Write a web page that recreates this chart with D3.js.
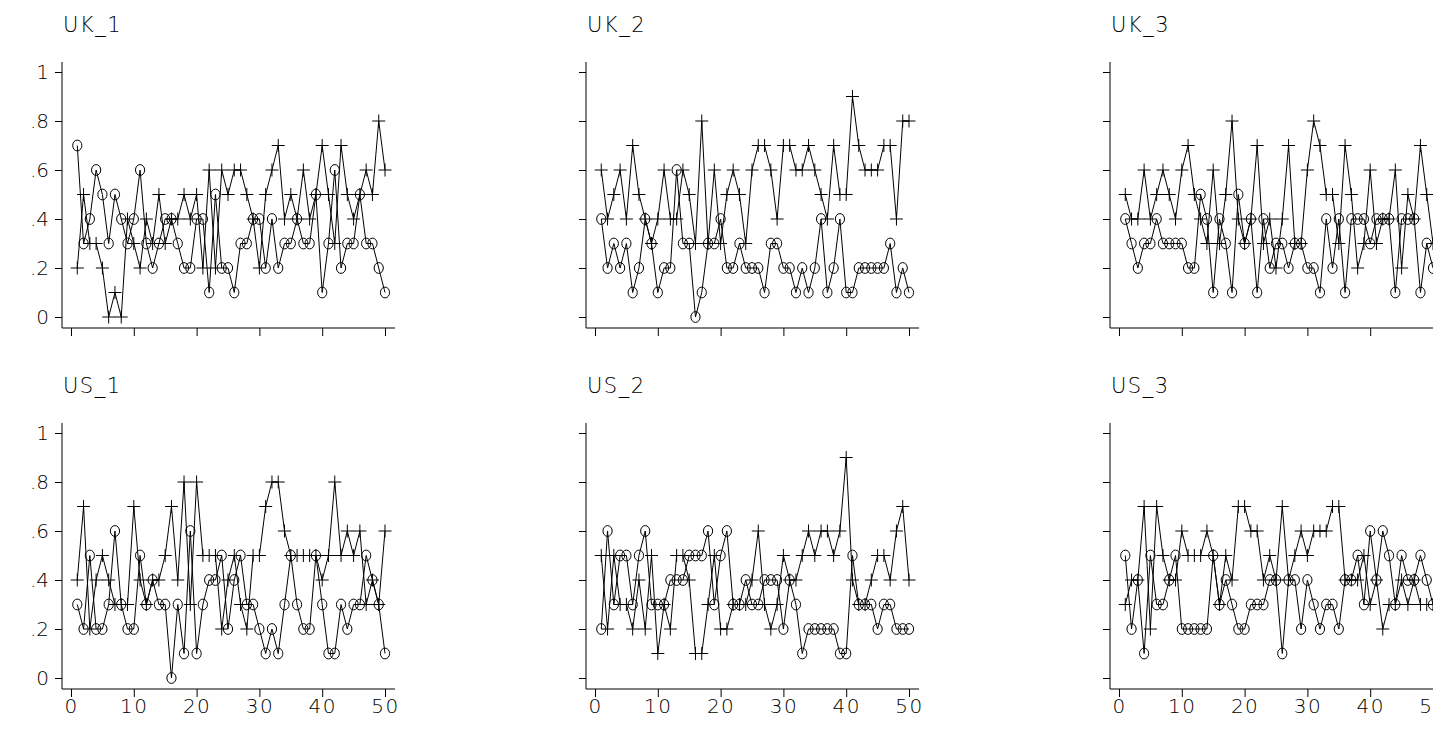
<!DOCTYPE html>
<html>
<head>
<meta charset="utf-8">
<script src="https://cdn.jsdelivr.net/npm/d3@7"></script>
<style>
  body { margin: 0; background: #fff; }
  svg { display: block; }
  text { font-family: "DejaVu Sans", sans-serif; font-weight: 200; fill: #000; }
</style>
</head>
<body>
<script>
// panel names, in row order
var panelNames = ['UK_1', 'UK_2', 'UK_3', 'US_1', 'US_2', 'US_3'];

// observation number on the x axis
var obs = d3.range(1, 51);

// circle series, one array per panel
var uk1Circle = [0.7,0.3,0.4,0.6,0.5,0.3,0.5,0.4,0.3,0.4,0.6,0.3,0.2,0.3,0.4,0.4,0.3,0.2,0.2,0.4,0.4,0.1,0.5,0.2,0.2,
                 0.1,0.3,0.3,0.4,0.4,0.2,0.4,0.2,0.3,0.3,0.4,0.3,0.3,0.5,0.1,0.3,0.6,0.2,0.3,0.3,0.5,0.3,0.3,0.2,0.1];
var uk2Circle = [0.4,0.2,0.3,0.2,0.3,0.1,0.2,0.4,0.3,0.1,0.2,0.2,0.6,0.3,0.3,0.0,0.1,0.3,0.3,0.4,0.2,0.2,0.3,0.2,0.2,
                 0.2,0.1,0.3,0.3,0.2,0.2,0.1,0.2,0.1,0.2,0.4,0.1,0.2,0.4,0.1,0.1,0.2,0.2,0.2,0.2,0.2,0.3,0.1,0.2,0.1];
var uk3Circle = [0.4,0.3,0.2,0.3,0.3,0.4,0.3,0.3,0.3,0.3,0.2,0.2,0.5,0.4,0.1,0.4,0.3,0.1,0.5,0.3,0.4,0.1,0.4,0.2,0.3,
                 0.3,0.2,0.3,0.3,0.2,0.2,0.1,0.4,0.2,0.4,0.1,0.4,0.4,0.4,0.3,0.4,0.4,0.4,0.1,0.4,0.4,0.4,0.1,0.3,0.2];
var us1Circle = [0.3,0.2,0.5,0.2,0.2,0.3,0.6,0.3,0.2,0.2,0.5,0.3,0.4,0.3,0.3,0.0,0.3,0.1,0.6,0.1,0.3,0.4,0.4,0.5,0.2,
                 0.4,0.5,0.3,0.3,0.2,0.1,0.2,0.1,0.3,0.5,0.3,0.2,0.2,0.5,0.3,0.1,0.1,0.3,0.2,0.3,0.3,0.5,0.4,0.3,0.1];
var us2Circle = [0.2,0.6,0.3,0.5,0.5,0.3,0.5,0.6,0.3,0.3,0.3,0.4,0.4,0.4,0.5,0.5,0.5,0.6,0.3,0.5,0.6,0.3,0.3,0.4,0.3,
                 0.3,0.4,0.4,0.4,0.2,0.4,0.3,0.1,0.2,0.2,0.2,0.2,0.2,0.1,0.1,0.5,0.3,0.3,0.3,0.2,0.3,0.3,0.2,0.2,0.2];
var us3Circle = [0.5,0.2,0.4,0.1,0.5,0.3,0.3,0.4,0.5,0.2,0.2,0.2,0.2,0.2,0.5,0.3,0.4,0.3,0.2,0.2,0.3,0.3,0.3,0.4,0.4,
                 0.1,0.4,0.4,0.2,0.4,0.3,0.2,0.3,0.3,0.2,0.4,0.4,0.5,0.3,0.6,0.4,0.6,0.5,0.3,0.5,0.4,0.4,0.5,0.4,0.3];

// plus series, one array per panel
var uk1Plus = [0.2,0.5,0.3,0.3,0.2,0.0,0.1,0.0,0.4,0.3,0.2,0.4,0.3,0.5,0.3,0.4,0.4,0.5,0.4,0.5,0.2,0.6,0.2,0.6,0.5,
               0.6,0.6,0.5,0.4,0.2,0.5,0.6,0.7,0.4,0.5,0.4,0.6,0.4,0.5,0.7,0.5,0.3,0.7,0.5,0.4,0.5,0.6,0.5,0.8,0.6];
var uk2Plus = [0.6,0.4,0.5,0.6,0.4,0.7,0.5,0.4,0.3,0.4,0.6,0.4,0.4,0.6,0.5,0.3,0.8,0.3,0.6,0.3,0.5,0.6,0.5,0.3,0.6,
               0.7,0.7,0.6,0.4,0.7,0.7,0.6,0.6,0.7,0.6,0.5,0.4,0.7,0.5,0.5,0.9,0.7,0.6,0.6,0.6,0.7,0.7,0.4,0.8,0.8];
var uk3Plus = [0.5,0.4,0.4,0.6,0.4,0.5,0.6,0.5,0.4,0.6,0.7,0.5,0.4,0.3,0.6,0.3,0.5,0.8,0.4,0.3,0.4,0.7,0.3,0.4,0.2,
               0.4,0.7,0.3,0.3,0.6,0.8,0.7,0.5,0.5,0.3,0.7,0.5,0.2,0.3,0.6,0.3,0.4,0.4,0.6,0.2,0.5,0.4,0.7,0.5,0.3];
var us1Plus = [0.4,0.7,0.2,0.4,0.5,0.4,0.3,0.3,0.3,0.7,0.4,0.3,0.4,0.4,0.5,0.7,0.4,0.8,0.3,0.8,0.5,0.5,0.5,0.2,0.4,
               0.5,0.3,0.2,0.5,0.5,0.7,0.8,0.8,0.6,0.5,0.5,0.5,0.5,0.5,0.4,0.5,0.8,0.5,0.6,0.5,0.6,0.3,0.4,0.3,0.6];
var us2Plus = [0.5,0.2,0.5,0.3,0.3,0.2,0.4,0.2,0.5,0.1,0.3,0.2,0.5,0.5,0.4,0.1,0.1,0.3,0.5,0.2,0.2,0.3,0.3,0.3,0.4,
               0.6,0.3,0.2,0.3,0.5,0.4,0.4,0.5,0.6,0.5,0.6,0.6,0.5,0.6,0.9,0.4,0.3,0.3,0.4,0.5,0.5,0.4,0.6,0.7,0.4];
var us3Plus = [0.3,0.4,0.4,0.7,0.2,0.7,0.5,0.4,0.4,0.6,0.5,0.5,0.5,0.6,0.5,0.3,0.5,0.4,0.7,0.7,0.6,0.6,0.4,0.5,0.4,
               0.7,0.4,0.5,0.6,0.5,0.6,0.6,0.6,0.7,0.7,0.4,0.4,0.4,0.5,0.3,0.4,0.2,0.3,0.3,0.4,0.3,0.4,0.3,0.3,0.3];

// tick values
var xTicks = [0, 10, 20, 30, 40, 50];
var yTicks = [0, 0.2, 0.4, 0.6, 0.8, 1];
var yTickLabels = ['0', '.2', '.4', '.6', '.8', '1'];

var circleSeries = [uk1Circle, uk2Circle, uk3Circle, us1Circle, us2Circle, us3Circle];
var plusSeries = [uk1Plus, uk2Plus, uk3Plus, us1Plus, us2Plus, us3Plus];

var width = 1433;
var height = 739;

var svg = d3.select('body')
  .append('svg')
  .attr('width', width)
  .attr('height', height);

// panel geometry
var panelLeft = 62;
var colStep = 524;
var rowTop = 0;
var rowStep = 361;
var axisLen = 333;
var axisBottom = 328;

// scales shared by all panels (panel-local coordinates)
var xScale = d3.scaleLinear().domain([0, 50]).range([9, 323]);
var yScale = d3.scaleLinear().domain([0, 1]).range([317, 72]);

panelNames.forEach(function(name, p) {
  var col = p % 3;
  var row = Math.floor(p / 3);

  var g = svg.append('g')
    .attr('transform', 'translate(' + (panelLeft + col * colStep) + ',' + (rowTop + row * rowStep) + ')');

  // title
  g.append('text')
    .attr('x', 1)
    .attr('y', 32)
    .style('font-size', '21px')
    .style('letter-spacing', '1.5px')
    .text(name);

  // y axis
  var yAxis = d3.axisLeft(yScale)
    .tickValues(yTicks)
    .tickSize(7)
    .tickPadding(6)
    .tickFormat(function(d, i) { return col === 0 ? yTickLabels[i] : ''; });

  var yg = g.append('g').call(yAxis);
  yg.select('.domain').remove();
  yg.selectAll('text')
    .style('font-size', '20px')
    .style('font-family', '"DejaVu Sans", sans-serif')
    .style('font-weight', 200);
  g.append('line')
    .attr('x1', 0).attr('x2', 0)
    .attr('y1', 62).attr('y2', axisBottom)
    .attr('stroke', '#000');

  // x axis
  var xAxis = d3.axisBottom(xScale)
    .tickValues(xTicks)
    .tickSize(8)
    .tickPadding(2)
    .tickFormat(function(d) { return row === 1 ? d : ''; });

  var xg = g.append('g')
    .attr('transform', 'translate(0,' + axisBottom + ')')
    .call(xAxis);
  xg.select('.domain').remove();
  xg.selectAll('text')
    .style('font-size', '20px')
    .style('font-family', '"DejaVu Sans", sans-serif')
    .style('font-weight', 200)
    .style('letter-spacing', '1.5px');
  g.append('line')
    .attr('x1', 0).attr('x2', axisLen)
    .attr('y1', axisBottom).attr('y2', axisBottom)
    .attr('stroke', '#000');

  var circles = obs.map(function(d, i) { return {x: d, y: circleSeries[p][i]}; });
  var pluses = obs.map(function(d, i) { return {x: d, y: plusSeries[p][i]}; });

  var line = d3.line()
    .x(function(d) { return xScale(d.x); })
    .y(function(d) { return yScale(d.y); });

  // connected lines
  g.append('path')
    .datum(pluses)
    .attr('d', line)
    .attr('fill', 'none')
    .attr('stroke', '#000')
    .attr('stroke-width', 1);

  g.append('path')
    .datum(circles)
    .attr('d', line)
    .attr('fill', 'none')
    .attr('stroke', '#000')
    .attr('stroke-width', 1);

  // plus markers
  g.selectAll('path.plus')
    .data(pluses)
    .enter()
    .append('path')
    .attr('class', 'plus')
    .attr('d', function(d) {
      var cx = xScale(d.x), cy = yScale(d.y);
      return 'M' + (cx - 6.5) + ',' + cy + 'H' + (cx + 6.5) + 'M' + cx + ',' + (cy - 6.5) + 'V' + (cy + 6.5);
    })
    .attr('stroke', '#000')
    .attr('stroke-width', 1);

  // circle markers
  g.selectAll('ellipse')
    .data(circles)
    .enter()
    .append('ellipse')
    .attr('cx', function(d) { return xScale(d.x); })
    .attr('cy', function(d) { return yScale(d.y); })
    .attr('rx', 4.6)
    .attr('ry', 5.4)
    .attr('fill', 'none')
    .attr('stroke', '#000')
    .attr('stroke-width', 1);
});
</script>
</body>
</html>
